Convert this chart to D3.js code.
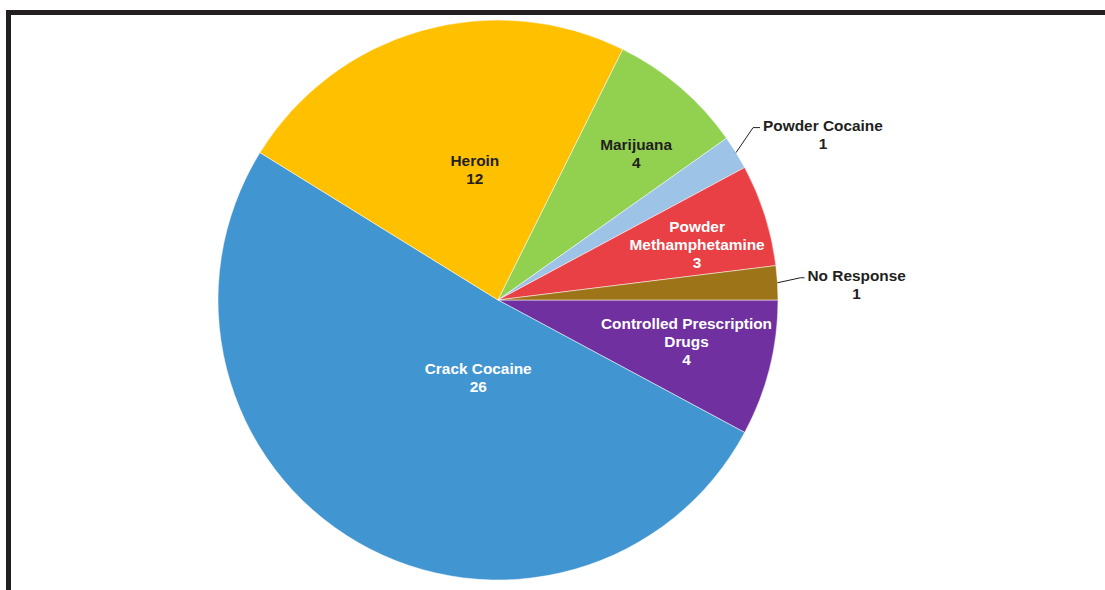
<!DOCTYPE html>
<html>
<head>
<meta charset="utf-8">
<script src="https://cdn.jsdelivr.net/npm/d3@7"></script>
<style>
  html, body { margin: 0; padding: 0; background: #fff; }
  svg { display: block; }
</style>
</head>
<body>
<div id="chart"></div>
<script>
  'use strict';

  // data, clockwise from 3 o'clock
  var categories = ['Controlled Prescription Drugs', 'Crack Cocaine', 'Heroin', 'Marijuana',
                    'Powder Cocaine', 'Powder Methamphetamine', 'No Response'];
  var counts = [4, 26, 12, 4, 1, 3, 1];
  var labelLines = [['Controlled Prescription', 'Drugs'], ['Crack Cocaine'], ['Heroin'], ['Marijuana'],
                    ['Powder Cocaine'], ['Powder', 'Methamphetamine'], ['No Response']];
  var colors = ['#7030A0', '#4195D1', '#FFC000', '#92D050', '#9DC3E6', '#E84045', '#9E7419'];
  var labelColors = ['#fff', '#fff', '#231F20', '#231F20', '#231F20', '#fff', '#231F20'];
  var outside = [false, false, false, false, true, false, true];

  // label nudges (px) from the label-arc centroid, to follow the original layout
  var nudges = [[-7, -8], [81, -97], [32, 63], [7, 7], [0, 0], [7, 6], [0, 0]];

  var w = 1105, h = 590,
      cx = 498, cy = 300, r = 280;

  var svg = d3.select('#chart').append('svg')
      .attr('width', w)
      .attr('height', h);

  // frame
  svg.append('rect').attr('x', 6).attr('y', 10).attr('width', w - 6).attr('height', 5).attr('fill', '#231F20');
  svg.append('rect').attr('x', 6).attr('y', 10).attr('width', 5).attr('height', h - 10).attr('fill', '#231F20');

  var rows = categories.map(function(c, i) {
    return { name: c, value: counts[i], lines: labelLines[i], i: i };
  });

  var pie = d3.pie()
      .sort(null)
      .value(function(d) { return d.value; })
      .startAngle(Math.PI / 2)
      .endAngle(Math.PI / 2 + 2 * Math.PI);

  var arc = d3.arc().innerRadius(0).outerRadius(r);
  var labelArc = d3.arc().innerRadius(r * 0.72).outerRadius(r * 0.72);

  var g = svg.append('g').attr('transform', 'translate(' + cx + ',' + cy + ')');
  var arcs = pie(rows);

  g.selectAll('path.slice')
    .data(arcs)
    .enter().append('path')
      .attr('class', 'slice')
      .attr('d', arc)
      .attr('fill', function(d) { return colors[d.data.i]; })
      .attr('stroke', '#fff')
      .attr('stroke-width', 0.5);

  var fontSize = 15.4, lineH = 18;

  arcs.forEach(function(d) {
    var i = d.data.i;
    var lines = d.data.lines.concat([String(d.data.value)]);
    var x, y;
    if (outside[i]) {
      var mid = (d.startAngle + d.endAngle) / 2;
      var ex = Math.sin(mid) * r, ey = -Math.cos(mid) * r;
      var kx, ky, hx;
      if (categories[i] === 'Powder Cocaine') {
        kx = ex + 17; ky = ey - 25; hx = kx + 7;
      } else {
        kx = ex + 23; ky = ey - 5; hx = kx + 4;
      }
      g.append('polyline')
        .attr('points', [[ex, ey], [kx, ky], [hx, ky]].map(function(p) { return p.join(','); }).join(' '))
        .attr('fill', 'none')
        .attr('stroke', '#231F20')
        .attr('stroke-width', 1);
      var tw = textWidth(d.data.lines[0]);
      x = hx + 3 + tw / 2;
      y = ky + lineH / 2 - 2;
    } else {
      var c = labelArc.centroid(d);
      x = c[0] + nudges[i][0];
      y = c[1] + nudges[i][1];
    }
    var t = g.append('text')
      .attr('text-anchor', 'middle')
      .attr('font-family', 'Liberation Sans, Arial, sans-serif')
      .attr('font-weight', 'bold')
      .attr('font-size', fontSize)
      .attr('fill', labelColors[i]);
    var y0 = y - (lines.length - 1) * lineH / 2;
    lines.forEach(function(s, k) {
      t.append('tspan')
        .attr('x', x)
        .attr('y', y0 + k * lineH)
        .attr('dy', '0.35em')
        .text(s);
    });
  });

  function textWidth(s) {
    var tmp = svg.append('text')
      .attr('font-family', 'Liberation Sans, Arial, sans-serif')
      .attr('font-weight', 'bold')
      .attr('font-size', fontSize)
      .text(s);
    var bw = tmp.node().getComputedTextLength();
    tmp.remove();
    return bw;
  }
</script>
</body>
</html>
